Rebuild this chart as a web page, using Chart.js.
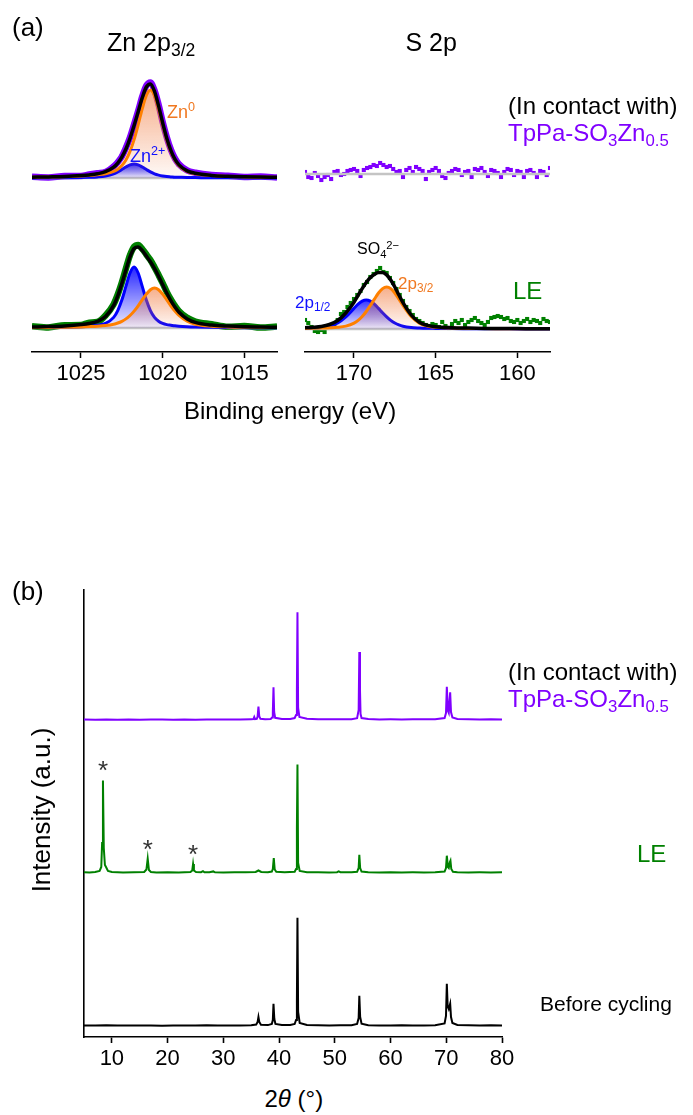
<!DOCTYPE html>
<html>
<head>
<meta charset="utf-8">
<title>Zn 2p / S 2p XPS and XRD</title>
<script src="https://cdn.jsdelivr.net/npm/chart.js@4.4.1/dist/chart.umd.min.js"></script>
<style>
  html, body { margin: 0; padding: 0; background: #fff; }
  body { position: relative; width: 693px; height: 1115px; overflow: hidden;
         font-family: "Liberation Sans", Arial, Helvetica, sans-serif; color: #000; }
  canvas { position: absolute; }
  .t { position: absolute; white-space: nowrap; line-height: 1; }
  .t sub, .t sup { font-size: 0.7em; line-height: 0; position: relative; vertical-align: baseline; }
  .t sub { top: 0.32em; }
  .t sup { top: -0.5em; }
</style>
</head>
<body>
<canvas id="zn" width="290" height="400" style="left:0;top:0"></canvas>
<canvas id="s" width="275" height="400" style="left:290px;top:0"></canvas>
<canvas id="xrd" width="693" height="517" style="left:0;top:560px"></canvas>
<script>
// ---------- Zn 2p3/2 (binding energy, eV) ----------
const znEnergy = [1028,1027,1026,1025,1024.5,1024,1023.5,1023,1022.75,1022.5,1022.25,1022,1021.75,1021.5,1021.25,1021,1020.75,1020.5,1020.25,1020,1019.75,1019.5,1019.25,1019,1018.5,1018,1017,1016,1015,1014,1013];
// in contact with TpPa-SO3Zn0.5
const znContactData = [1.2,0.6,1.9,2.0,3.5,4.8,6.0,11.6,15.8,21.5,30.2,40.6,53.5,67.0,81.5,92.4,95.5,87.6,73.4,55.9,40.8,28.5,19.6,13.8,7.6,5.3,3.0,2.2,1.0,1.4,0.5];
const znContactFit  = [0.8,1.1,1.5,2.4,3.1,4.2,6.3,10.9,14.9,20.9,29.0,39.7,52.4,66.3,80.2,91.0,94.1,86.7,72.1,55.2,39.8,27.7,18.8,13.1,7.1,4.7,2.6,1.7,1.2,0.9,0.7];
const znContactZn0  = [0.7,0.9,1.2,1.9,2.4,3.2,4.3,6.6,8.8,12.4,18.0,26.6,38.4,53.2,69.2,82.5,88.0,82.5,69.2,53.2,38.4,26.6,18.0,12.4,6.6,4.3,2.4,1.5,1.1,0.8,0.6];
const znContactZn2  = [0.1,0.2,0.3,0.5,0.7,1.1,2.0,4.2,6.1,8.5,11.0,13.1,14.0,13.1,11.0,8.5,6.1,4.2,2.9,2.0,1.4,1.1,0.8,0.7,0.5,0.4,0.2,0.2,0.1,0.1,0.1];
// LE
const znLEData = [1.8,0.6,2.8,3.0,5.3,6.0,12.5,23.8,33.5,45.6,59.5,72.8,81.2,83.0,79.0,73.5,67.9,60.8,53.0,44.9,36.1,28.5,22.1,16.8,10.2,6.5,3.8,1.2,2.0,0.4,1.5];
const znLEFit  = [1.0,1.4,2.1,3.4,4.5,6.6,11.4,22.6,32.2,44.4,58.1,71.1,79.5,81.0,77.6,72.1,66.2,59.6,51.8,43.4,35.0,27.3,21.0,15.8,9.1,5.6,2.9,1.9,1.3,1.0,0.8];
const znLEZn0  = [0.4,0.6,0.8,1.1,1.4,1.8,2.5,3.8,5.0,6.7,9.1,12.5,16.9,22.2,28.2,33.9,38.3,40.0,38.3,33.9,28.2,22.2,16.9,12.5,6.7,3.8,1.8,1.1,0.8,0.6,0.4];
const znLEZn2  = [0.4,0.5,0.8,1.3,1.8,2.8,4.6,10.6,17.4,27.9,41.6,55.0,61.0,55.0,41.6,27.9,17.4,10.6,6.7,4.6,3.4,2.8,2.2,1.8,1.3,1.0,0.7,0.5,0.3,0.2,0.2];
const znTicks = [1025, 1020, 1015];
const znTickLabels = ['1025', '1020', '1015'];

// ---------- S 2p ----------
const sEnergyData = [173,172.8,172.6,172.4,172.2,172,171.8,171.6,171.4,171.2,171,170.8,170.6,170.4,170.2,170,169.8,169.6,169.4,169.2,169,168.8,168.6,168.4,168.2,168,167.8,167.6,167.4,167.2,167,166.8,166.6,166.4,166.2,166,165.8,165.6,165.4,165.2,165,164.8,164.6,164.4,164.2,164,163.8,163.6,163.4,163.2,163,162.8,162.6,162.4,162.2,162,161.8,161.6,161.4,161.2,161,160.8,160.6,160.4,160.2,160,159.8,159.6,159.4,159.2,159,158.8,158.6,158.4,158.2,158];
const sContactData = [2,-3,-4,1,-2,-6,-3,-1,-5,2,3,-1,0,3,4,5,3,-2,4,6,7,9,8,11,9,7,8,5,2,3,-3,4,6,2,7,5,3,-5,2,4,6,3,-2,-4,1,3,5,4,-1,2,3,-3,5,4,6,2,-2,4,3,1,-3,2,5,4,-1,3,2,-3,3,4,1,-3,3,2,-1,6];
const sLEData = [9,6,2,-2,-3,-1,-3,1,4,5,9,15,17,22,26,30,34,38,44,47,52,55,58,61,57,56,51,46,40,34,28,22,18,14,10,8,6,4,3,5,4,2,7,3,1,5,8,6,9,4,7,9,11,8,6,4,7,11,12,13,12,10,11,8,7,9,6,8,10,7,9,8,6,10,8,7];
const sEnergyFit = [173,172.5,172,171.5,171,170.5,170,169.75,169.5,169.25,169,168.75,168.5,168.25,168,167.75,167.5,167.25,167,166.5,166,165.5,165,164,163,162,161,160,159,158];
const sLEFit = [1.3,1.7,2.5,4.5,8.5,16.0,26.8,33.6,40.4,46.5,51.4,54.7,56.6,56.6,54.1,49.0,42.0,34.0,26.3,14.0,6.8,3.6,2.2,1.3,0.9,0.6,0.5,0.4,0.3,0.2];
const sLE2p32 = [0.6,0.7,0.9,1.2,1.7,2.9,5.9,8.7,12.5,17.5,23.5,29.9,36.0,40.4,42.0,40.4,36.0,29.9,23.5,12.5,5.9,2.9,1.7,0.9,0.6,0.4,0.3,0.2,0.2,0.2];
const sLE2p12 = [0.7,1.0,1.5,2.8,6.0,12.1,20.6,24.8,27.9,29.0,27.9,24.8,20.6,16.2,12.1,8.6,6.0,4.1,2.8,1.5,1.0,0.7,0.6,0.4,0.3,0.2,0.2,0.1,0.1,0.1];
const sTicks = [170, 165, 160];
const sTickLabels = ['170', '165', '160'];

// ---------- XRD patterns: [2theta (deg), intensity] ----------
const xrdBefore = [[5,0.6],[7,0.4],[9,0.7],[11,0.5],[13,0.4],[15,0.6],[17,0.5],[19,0.3],[21,0.6],[23,0.4],[25,0.5],[27,0.7],[29,0.4],[31,0.5],[33,0.6],[35,0.7],[35.9,1.5],[36.15,4],[36.3,9],[36.45,4],[36.75,1.2],[38,0.9],[38.7,2],[38.88,6],[39,22.3],[39.15,7],[39.35,2],[40.5,0.9],[42,1],[42.8,2],[43.05,6],[43.2,25],[43.3,108.3],[43.42,14],[43.7,3],[45,1],[47,0.7],[49,0.6],[51,0.7],[53,0.8],[54,2],[54.28,8],[54.4,30.3],[54.55,9],[54.8,2.3],[56,0.8],[58,0.6],[60,0.5],[62,0.7],[64,0.6],[66,0.5],[68,0.8],[69.7,2.5],[69.95,10],[70.1,42.3],[70.25,20],[70.45,17],[70.7,22.3],[70.85,9],[71.1,3],[72,1],[74,0.7],[76,0.5],[78,0.7],[80,0.6]];
const xrdLE = [[5,0.8],[6,0.6],[7,1],[7.8,2],[8.1,6],[8.25,30],[8.4,92.6],[8.55,25],[8.75,8],[8.95,6],[9.3,2],[10,1],[12,0.6],[14,0.8],[15.8,1],[16.2,3.5],[16.43,14.3],[16.65,3],[17,1],[18,0.6],[20,0.7],[22,0.5],[24.1,1],[24.42,2.5],[24.57,9],[24.72,2.5],[25.1,0.9],[26,0.8],[26.35,1.8],[26.6,0.8],[27.5,0.8],[28.2,1.6],[28.5,0.7],[30,0.5],[32,0.7],[34,0.8],[35.8,1],[36.3,2.5],[36.8,1],[38,0.8],[38.7,1.5],[38.88,4],[39.05,15],[39.22,3.5],[39.5,1.2],[41,0.7],[42.8,1.2],[43.05,4],[43.2,45],[43.3,108.6],[43.42,10],[43.7,2],[45,0.7],[47,0.8],[49,0.6],[50.4,0.8],[50.7,1.6],[51,0.8],[53,0.7],[54,1.2],[54.28,5],[54.4,18.3],[54.55,5],[54.8,1.4],[56,0.7],[58,0.6],[60,0.8],[62,0.6],[64,0.7],[66,0.6],[68,0.8],[69.7,1.5],[69.95,5],[70.1,17.3],[70.3,6],[70.45,5],[70.65,11],[70.75,12.3],[70.9,4],[71.2,1.3],[72,0.8],[74,0.6],[76,0.7],[78,0.6],[80,0.7]];
const xrdContact = [[5,0.6],[7,0.2],[9,0.5],[11,0.3],[13,0.6],[15,0.2],[17,0.5],[19,0.4],[21,0.2],[23,0.6],[25,0.3],[27,0.5],[29,0.4],[31,0.6],[33,0.5],[35,0.8],[35.4,0.9],[35.55,3],[35.7,0.9],[36,1.2],[36.15,3.5],[36.3,13.3],[36.45,3.5],[36.65,1.2],[37.5,0.8],[38.5,1],[38.75,2.5],[38.88,8],[39,32.7],[39.12,8],[39.3,2.2],[40.5,1],[42,1.1],[42.8,2],[43.05,5],[43.2,30],[43.3,107.7],[43.42,12],[43.65,3],[45,1.2],[47,0.8],[49,0.7],[51,0.8],[53,0.8],[54,1.8],[54.28,10],[54.4,68],[54.52,30],[54.62,6],[54.8,2],[56,0.9],[58,0.6],[60,0.7],[62,0.6],[64,0.8],[66,0.7],[68,0.8],[69.7,2],[69.95,7],[70.1,33.3],[70.3,9],[70.45,7],[70.6,20],[70.7,27.7],[70.85,8],[71.1,2.5],[72,1],[74,0.8],[76,0.6],[78,0.8],[80,0.6]];
const xrdStarTheta = [8.4, 16.43, 24.57];   // peaks marked with *
const xrdTicks = [10, 20, 30, 40, 50, 60, 70, 80];
const xrdTickLabels = ['10', '20', '30', '40', '50', '60', '70', '80'];

// ---------- styling and stacking ----------
const FONT = '"Liberation Sans", Arial, Helvetica, sans-serif';
Chart.defaults.font.family = FONT;
Chart.defaults.color = '#000';

const PURPLE = '#8000ff', GREEN = '#008000', ORANGE = '#ff8000', BLUE = '#0000ff', GREY = '#c4c4c4';
const XPS_Y_MAX = 282;
const ZN_CONTACT_OFF = 174, ZN_LE_OFF = 24;
const S_CONTACT_OFF = 178, S_LE_OFF = 23;
const XRD_Y_MAX = 447;
const XRD_BEFORE_OFF = 11, XRD_LE_OFF = 164, XRD_CONTACT_OFF = 317;
const TICK_FONT = 22;

const pts = (xs, ys, off) => xs.map((x, i) => ({ x, y: ys[i] + off }));
const pairPts = (pairs, off) => pairs.map(p => ({ x: p[0], y: p[1] + off }));

// vertical fade from the component's peak down to its baseline
function fade(rgb, topA, botA, base, values) {
  return (c) => {
    const chart = c.chart;
    if (!chart.chartArea) return `rgba(${rgb},${topA})`;
    const y = chart.scales.y;
    const y0 = y.getPixelForValue(base + Math.max(...values));
    const y1 = y.getPixelForValue(base);
    const g = chart.ctx.createLinearGradient(0, y0, 0, y1);
    g.addColorStop(0, `rgba(${rgb},${topA})`);
    g.addColorStop(1, `rgba(${rgb},${botA})`);
    return g;
  };
}

function curve(data, color, width, extra) {
  return Object.assign({ data, borderColor: color, borderWidth: width, pointRadius: 0,
    fill: false, cubicInterpolationMode: 'monotone' }, extra || {});
}
function component(xs, ys, off, color, rgb, topA, botA) {
  return curve(pts(xs, ys, off), color, 3, {
    fill: { value: off }, backgroundColor: fade(rgb, topA, botA, off, ys) });
}
function baseline(xMin, xMax, off) {
  return curve([{ x: xMax, y: off }, { x: xMin, y: off }], GREY, 2.5);
}
function scatter(xs, ys, off, color, withLine) {
  return { data: pts(xs, ys, off), showLine: !!withLine, borderColor: color, borderWidth: withLine ? 6.5 : 0,
    cubicInterpolationMode: 'monotone',
    pointStyle: 'rect', pointRadius: withLine ? 3.2 : 2.9, pointBackgroundColor: color, pointBorderWidth: 0, fill: false };
}

function xpsOptions(min, max, ticks, labels) {
  return {
    responsive: false, animation: false, events: [],
    layout: { padding: { left: 0, right: 0, top: 70, bottom: 0 } },
    plugins: { legend: { display: false }, tooltip: { enabled: false } },
    scales: {
      x: { type: 'linear', min, max, reverse: true,
        grid: { drawOnChartArea: false, drawTicks: true, tickLength: 6, tickWidth: 1.5, tickColor: '#000' },
        border: { display: true, color: '#000', width: 1.5 },
        ticks: { font: { size: TICK_FONT }, color: '#000', padding: 3, maxRotation: 0, autoSkip: false,
                 callback: (v, i) => labels[i] },
        afterBuildTicks: s => { s.ticks = ticks.map(v => ({ value: v })); },
        afterFit: s => { s.height = 48; } },
      y: { display: false, min: 0, max: XPS_Y_MAX }
    }
  };
}

// Zn 2p3/2 panel
const znOpts = xpsOptions(1013, 1028, znTicks, znTickLabels);
znOpts.layout.padding.left = 32; znOpts.layout.padding.right = 13;
new Chart(document.getElementById('zn'), {
  type: 'line',
  data: { datasets: [
    curve(pts(znEnergy, znContactFit, ZN_CONTACT_OFF), '#000', 3.5),
    curve(pts(znEnergy, znLEFit, ZN_LE_OFF), '#000', 3.5),
    component(znEnergy, znContactZn0, ZN_CONTACT_OFF, ORANGE, '240,120,60', 0.6, 0.04),
    component(znEnergy, znLEZn0, ZN_LE_OFF, ORANGE, '240,120,60', 0.6, 0.04),
    component(znEnergy, znContactZn2, ZN_CONTACT_OFF, BLUE, '0,0,255', 0.85, 0.06),
    component(znEnergy, znLEZn2, ZN_LE_OFF, BLUE, '0,0,255', 0.85, 0.06),
    baseline(1013, 1028, ZN_CONTACT_OFF),
    baseline(1013, 1028, ZN_LE_OFF),
    scatter(znEnergy, znContactData, ZN_CONTACT_OFF, PURPLE, true),
    scatter(znEnergy, znLEData, ZN_LE_OFF, GREEN, true)
  ] },
  options: znOpts
});

// S 2p panel
const sOpts = xpsOptions(158, 173, sTicks, sTickLabels);
sOpts.layout.padding.left = 15; sOpts.layout.padding.right = 15;
new Chart(document.getElementById('s'), {
  type: 'line',
  data: { datasets: [
    curve(pts(sEnergyFit, sLEFit, S_LE_OFF), '#000', 3.5),
    component(sEnergyFit, sLE2p32, S_LE_OFF, ORANGE, '240,120,60', 0.6, 0.04),
    component(sEnergyFit, sLE2p12, S_LE_OFF, BLUE, '0,0,255', 0.8, 0.06),
    baseline(158, 173, S_CONTACT_OFF),
    baseline(158, 173, S_LE_OFF),
    scatter(sEnergyData, sContactData, S_CONTACT_OFF, PURPLE, false),
    scatter(sEnergyData, sLEData, S_LE_OFF, GREEN, false)
  ] },
  options: sOpts
});

// XRD panel, asterisks over the marked reflections
const starPlugin = {
  id: 'stars',
  afterDatasetsDraw(chart) {
    const { ctx, scales: { x, y } } = chart;
    ctx.save();
    ctx.font = '26px ' + FONT;
    ctx.fillStyle = '#333';
    ctx.textAlign = 'center';
    ctx.textBaseline = 'alphabetic';
    xrdStarTheta.forEach(t => {
      const p = xrdLE.find(q => q[0] === t);
      const px = x.getPixelForValue(t);
      const py = y.getPixelForValue(p[1] + XRD_LE_OFF);
      ctx.fillText('*', px, py - 16 + 0.57 * 26);
    });
    ctx.restore();
  }
};
const xrdLine = (data, color) => ({ data, borderColor: color, borderWidth: 2, pointRadius: 0, tension: 0, fill: false });
new Chart(document.getElementById('xrd'), {
  type: 'line',
  data: { datasets: [
    xrdLine(pairPts(xrdContact, XRD_CONTACT_OFF), PURPLE),
    xrdLine(pairPts(xrdLE, XRD_LE_OFF), GREEN),
    xrdLine(pairPts(xrdBefore, XRD_BEFORE_OFF), '#000')
  ] },
  options: {
    responsive: false, animation: false, events: [],
    layout: { padding: { left: 84, right: 191, top: 30, bottom: 0 } },
    plugins: { legend: { display: false }, tooltip: { enabled: false } },
    scales: {
      x: { type: 'linear', min: 5, max: 80,
        grid: { drawOnChartArea: false, drawTicks: true, tickLength: 6, tickWidth: 1.6, tickColor: '#000' },
        border: { display: true, color: '#000', width: 1.6 },
        ticks: { font: { size: TICK_FONT }, color: '#000', padding: 3, maxRotation: 0, autoSkip: false,
                 callback: (v, i) => xrdTickLabels[i] },
        afterBuildTicks: s => { s.ticks = xrdTicks.map(v => ({ value: v })); },
        afterFit: s => { s.height = 40; } },
      y: { min: 0, max: XRD_Y_MAX, position: 'left',
        grid: { drawOnChartArea: false, drawTicks: false },
        border: { display: true, color: '#000', width: 1.6 },
        ticks: { display: false },
        afterFit: s => { s.width = 0; } }
    }
  },
  plugins: [starPlugin]
});

// ---------- text ----------
function label(html, x, base, size, color, align) {
  const el = document.createElement('div');
  el.className = 't';
  el.innerHTML = html;
  el.style.fontSize = size + 'px';
  el.style.color = color || '#000';
  el.style.top = (base - 0.8465 * size) + 'px';
  document.body.appendChild(el);
  el.style.left = (align === 'center' ? x - el.offsetWidth / 2 : x) + 'px';
  return el;
}
const TPPA = 'TpPa-SO<sub>3</sub>Zn<sub>0.5</sub>';
label('(a)', 12, 36, 26);
label('Zn 2p<sub>3/2</sub>', 107, 51, 25);
label('S 2p', 431, 51, 25, '#000', 'center');
label('Zn<sup>0</sup>', 167, 118, 18, '#f07820');
label('Zn<sup>2+</sup>', 130, 162, 18, '#1010ff');
label('(In contact with)', 508, 114, 24);
label(TPPA, 508, 141, 24, PURPLE);
label('SO<sub>4</sub><sup>2&minus;</sup>', 357, 255, 16);
label('2p<sub>3/2</sub>', 398, 289, 17, '#f07820');
label('2p<sub>1/2</sub>', 295, 308, 17, '#1010ff');
label('LE', 513, 299, 24, GREEN);
label('Binding energy (eV)', 290, 419, 24, '#000', 'center');

label('(b)', 12, 600, 26);
label('(In contact with)', 508, 680, 24);
label(TPPA, 508, 707, 24, PURPLE);
label('LE', 637, 862, 24, GREEN);
label('Before cycling', 540, 1011, 21);
label('2<i>&theta;</i> (&deg;)', 294, 1107, 24, '#000', 'center');

const yTitle = label('Intensity (a.u.)', 0, 0, 26);
yTitle.style.left = (41 - yTitle.offsetWidth / 2) + 'px';
yTitle.style.top = (810 - 13) + 'px';
yTitle.style.transform = 'rotate(-90deg)';
yTitle.style.transformOrigin = '50% 50%';
</script>
</body>
</html>
